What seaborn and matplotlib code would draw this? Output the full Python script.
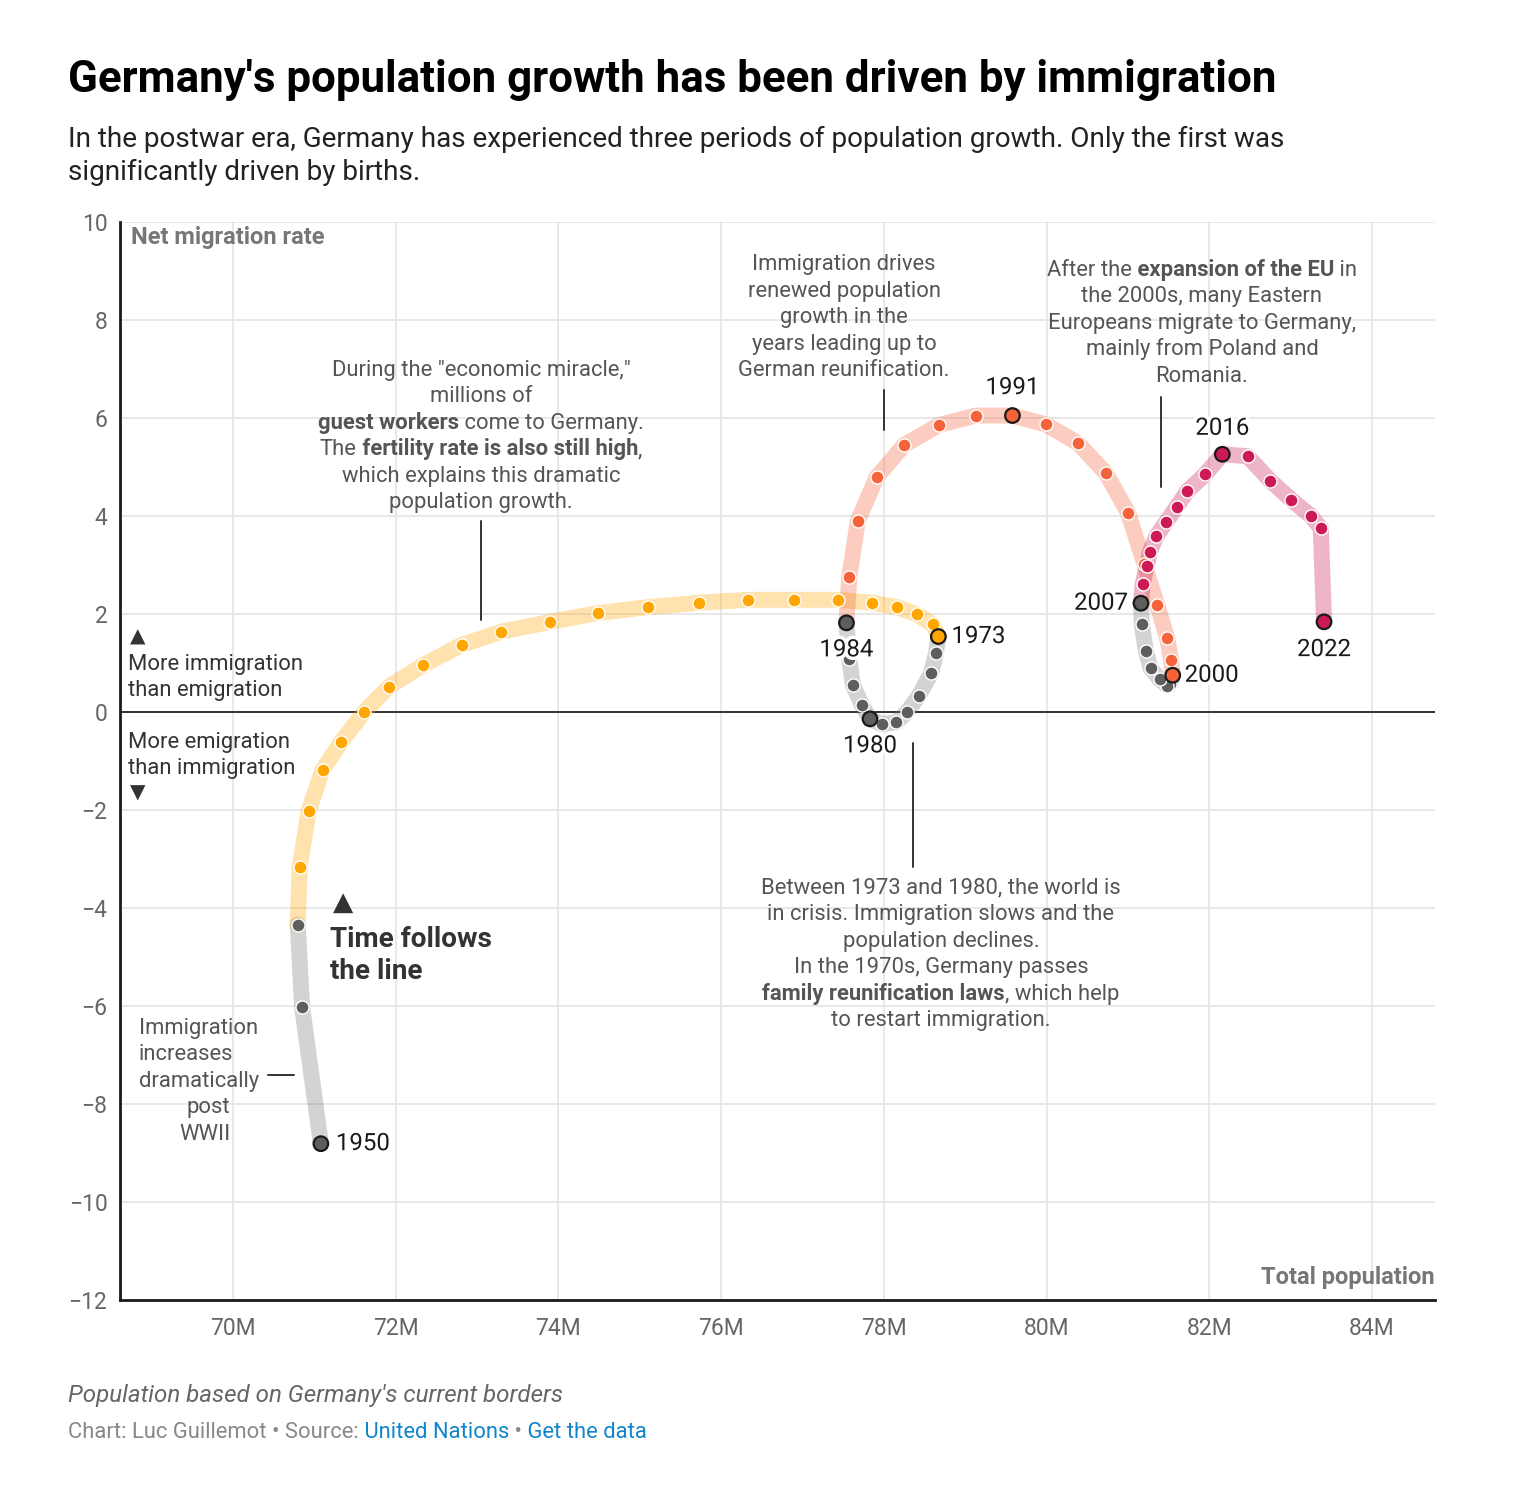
import numpy as np
import pandas as pd
import seaborn as sns
import matplotlib.pyplot as plt
import matplotlib.patheffects as pe

# Data (population in millions, net migration rate)
years = list(range(1950, 2023))
population = [
    71.08, 70.85, 70.795, 70.82, 70.93, 71.10, 71.33, 71.61, 71.92, 72.34,
    72.81, 73.30, 73.90, 74.49, 75.10, 75.73, 76.33, 76.90, 77.43, 77.85,
    78.16, 78.41, 78.60, 78.67, 78.64, 78.58, 78.43, 78.28, 78.15, 77.98,
    77.83, 77.73, 77.62, 77.575, 77.54, 77.575, 77.68, 77.91, 78.25, 78.68,
    79.13, 79.58, 79.99, 80.39, 80.73, 81.00, 81.20, 81.36, 81.48, 81.53,
    81.55, 81.52, 81.48, 81.39, 81.28, 81.22, 81.17, 81.16, 81.18, 81.23,
    81.27, 81.35, 81.47, 81.60, 81.73, 81.95, 82.16, 82.47, 82.75, 83.01,
    83.25, 83.37, 83.41,
]
net_migration = [
    -8.81, -6.03, -4.34, -3.16, -2.02, -1.18, -0.61, 0.00, 0.52, 0.96,
    1.37, 1.64, 1.84, 2.02, 2.14, 2.23, 2.29, 2.29, 2.29, 2.23,
    2.14, 1.99, 1.79, 1.54, 1.20, 0.79, 0.33, -0.01, -0.21, -0.25,
    -0.14, 0.14, 0.55, 1.08, 1.82, 2.76, 3.90, 4.79, 5.45, 5.86,
    6.05, 6.05, 5.87, 5.48, 4.87, 4.07, 3.03, 2.18, 1.52, 1.06,
    0.75, 0.57, 0.54, 0.67, 0.89, 1.24, 1.79, 2.22, 2.61, 2.97,
    3.27, 3.59, 3.88, 4.19, 4.51, 4.85, 5.26, 5.22, 4.72, 4.33,
    4.00, 3.75, 1.84,
]

period_start = [1950, 1952, 1973, 1984, 2000, 2007]
period_end = [1952, 1973, 1984, 2000, 2007, 2022]
period_kind = ["decline", "boom", "decline", "reunification", "decline", "eu"]

label_years = [1950, 1973, 1980, 1984, 1991, 2000, 2007, 2016, 2022]

x_ticks = [70, 72, 74, 76, 78, 80, 82, 84]
y_ticks = list(range(-12, 11, 2))

df = pd.DataFrame({"year": years, "population": population, "migration": net_migration})

dot_colors = {"decline": "#5e5e5e", "boom": "#ffa600", "reunification": "#f4633a", "eu": "#cc1a55"}
band_colors = {"decline": "#777777", "boom": "#ffa600", "reunification": "#f4633a", "eu": "#cc1a55"}

# Plotting
sns.set_theme(style="white")
plt.rcParams["font.family"] = ["Roboto", "DejaVu Sans"]

fig = plt.figure(figsize=(15.18, 14.86), dpi=100)
ax = fig.add_axes([120 / 1518, 1 - 1300 / 1486, 1315 / 1518, 1078 / 1486])

for k, (s, e, kind) in enumerate(zip(period_start, period_end, period_kind)):
    seg = df[(df.year >= s) & (df.year <= e)]
    sns.lineplot(data=seg, x="population", y="migration", sort=False, estimator=None,
                 color=band_colors[kind], alpha=0.32, lw=11.5, solid_capstyle="round",
                 ax=ax, zorder=3 + k)
    dots = seg if s == period_start[0] else seg[seg.year > s]
    dots = dots[~dots.year.isin(label_years)]
    sns.scatterplot(data=dots, x="population", y="migration", color=dot_colors[kind],
                    s=88, edgecolor="white", linewidth=1.0, ax=ax, zorder=10 + k)

# highlighted years with dark outline
kind_of = {}
for s, e, kind in zip(period_start, period_end, period_kind):
    for yr in range(s + 1 if s != period_start[0] else s, e + 1):
        kind_of[yr] = kind
hl = df[df.year.isin(label_years)].copy()
hl["kind"] = hl.year.map(kind_of)
sns.scatterplot(data=hl, x="population", y="migration", hue="kind", palette=dot_colors,
                s=110, edgecolor="#1a1a1a", linewidth=1.6, legend=False, ax=ax, zorder=17)

ax.axhline(0, color="#333333", lw=1.4, zorder=2)

ax.set_xlim(68.611, 84.774)
ax.set_ylim(-12, 10)
ax.set_xticks(x_ticks)
ax.set_xticklabels([f"{v}M" for v in x_ticks])
ax.set_yticks(y_ticks)
ax.set_yticklabels([str(v).replace("-", "\u2212") for v in y_ticks])
ax.tick_params(length=0, labelsize=16.5, labelcolor="#666666")
ax.tick_params(axis="x", pad=12)
ax.tick_params(axis="y", pad=9)
ax.grid(True, color="#e6e6e6", lw=1.3)
ax.set_axisbelow(True)
ax.set_xlabel("")
ax.set_ylabel("")
for side in ["top", "right"]:
    ax.spines[side].set_visible(False)
for side in ["left", "bottom"]:
    ax.spines[side].set_color("#1a1a1a")
    ax.spines[side].set_linewidth(2)

renderer = fig.canvas.get_renderer()


def rich(x, y, lines, ha="center", size=15.8, color="#555555", step=19.1, coords="data",
         zorder=9, bold=False):
    for i, pieces in enumerate(lines):
        if isinstance(pieces, str):
            pieces = [(pieces, bold)]
        items = []
        for p in pieces:
            c = p[2] if len(p) > 2 else color
            t = ax.annotate(p[0], xy=(x, y), xycoords=coords, xytext=(0, -i * step),
                            textcoords="offset points", fontsize=size,
                            fontweight="bold" if p[1] else "normal", color=c,
                            ha="left", va="baseline", zorder=zorder)
            items.append((t, t.get_window_extent(renderer).width * 72 / fig.dpi))
        total = sum(w for _, w in items)
        off = {"center": -total / 2, "left": 0, "right": -total}[ha]
        for t, w in items:
            t.xyann = (off, -i * step)
            off += w


# annotation blocks
rich(73.05, 6.86, [
    'During the "economic miracle,"',
    "millions of",
    [("guest workers", True), (" come to Germany.", False)],
    [("The", False), (" fertility rate is also still high", True), (",", False)],
    "which explains this dramatic",
    "population growth.",
])
ax.plot([73.05, 73.05], [3.9, 1.88], color="#333333", lw=1.4, zorder=2)

rich(77.51, 9.02, [
    "Immigration drives",
    "renewed population",
    "growth in the",
    "years leading up to",
    "German reunification.",
])
ax.plot([78.0, 78.0], [6.57, 5.76], color="#333333", lw=1.4, zorder=2)

rich(81.91, 8.90, [
    [("After the", False), (" expansion of the EU", True), (" in", False)],
    "the 2000s, many Eastern",
    "Europeans migrate to Germany,",
    "mainly from Poland and",
    "Romania.",
])
ax.plot([81.41, 81.41], [6.43, 4.59], color="#333333", lw=1.4, zorder=2)

rich(78.70, -3.71, [
    "Between 1973 and 1980, the world is",
    "in crisis. Immigration slows and the",
    "population declines.",
    "In the 1970s, Germany passes",
    [("family reunification laws", True), (", which help", False)],
    "to restart immigration.",
])
ax.plot([78.36, 78.36], [-0.63, -3.16], color="#333333", lw=1.4, zorder=2)

rich(68.84, -6.57, ["Immigration", "increases", "dramatically"], ha="left")
rich(69.97, -6.57 - 3 * 26.5 / 49, ["post", "WWII"], ha="right")
ax.plot([70.43, 70.75], [-7.41, -7.41], color="#333333", lw=1.4, zorder=2)

# side notes
ax.text(68.83, 1.52, "\u25B2", fontsize=14.5, color="#333333", ha="center", va="center")
rich(68.71, 0.86, ["More immigration", "than emigration"], ha="left", color="#333333", size=15.8)
rich(68.71, -0.73, ["More emigration", "than immigration"], ha="left", color="#333333", size=15.8)
ax.text(68.83, -1.65, "\u25BC", fontsize=14.5, color="#333333", ha="center", va="center")

ax.text(71.35, -3.9, "\u25B2", fontsize=19, color="#333333", ha="center", va="center")
rich(71.19, -4.80, ["Time follows", "the line"], ha="left", color="#333333", size=20.1,
     step=23.2, bold=True)

ax.text(68.746, 9.55, "Net migration rate", fontsize=17, fontweight="bold", color="#777777",
        va="baseline", ha="left")
ax.text(1.0, -11.68, "Total population", fontsize=17, fontweight="bold", color="#777777",
        va="baseline", ha="right", transform=ax.get_yaxis_transform())

# year labels
label_pos = {1950: (10.8, 0, "left"), 1973: (9.4, 0, "left"), 1984: (0, -19.5, "center"),
             1980: (0, -19.5, "center"), 1991: (0, 20, "center"), 2000: (8.6, 0, "left"),
             2007: (-9.4, 0, "right"), 2016: (0, 18.7, "center"), 2022: (0, -20, "center")}
for yr in label_years:
    row = df[df.year == yr].iloc[0]
    dx, dy, ha = label_pos[yr]
    ax.annotate(str(yr), xy=(row.population, row.migration), xytext=(dx, dy),
                textcoords="offset points", ha=ha, va="center", fontsize=17.3, color="#1a1a1a",
                path_effects=[pe.withStroke(linewidth=5, foreground="white")], zorder=20)

# title, subtitle, footer
fig.text(68 / 1518, 1 - 92 / 1486, "Germany's population growth has been driven by immigration",
         fontsize=31.6, fontweight="bold", color="#000000", va="baseline")
fig.text(68 / 1518, 1 - 147 / 1486,
         "In the postwar era, Germany has experienced three periods of population growth. Only the first was",
         fontsize=20.1, color="#222222", va="baseline")
fig.text(68 / 1518, 1 - 180 / 1486, "significantly driven by births.",
         fontsize=20.1, color="#222222", va="baseline")
fig.text(68 / 1518, 1 - 1402 / 1486, "Population based on Germany's current borders",
         fontsize=17.4, fontstyle="italic", color="#666666", va="baseline")
rich(68 / 1518, 1 - 1438 / 1486, [[
    ("Chart: Luc Guillemot \u2022 Source:", False, "#888888"),
    (" United Nations", False, "#1185cc"),
    (" \u2022", False, "#888888"),
    (" Get the data", False, "#1185cc"),
]], ha="left", size=15.8, coords="figure fraction")

plt.savefig("out.png", dpi=100)
